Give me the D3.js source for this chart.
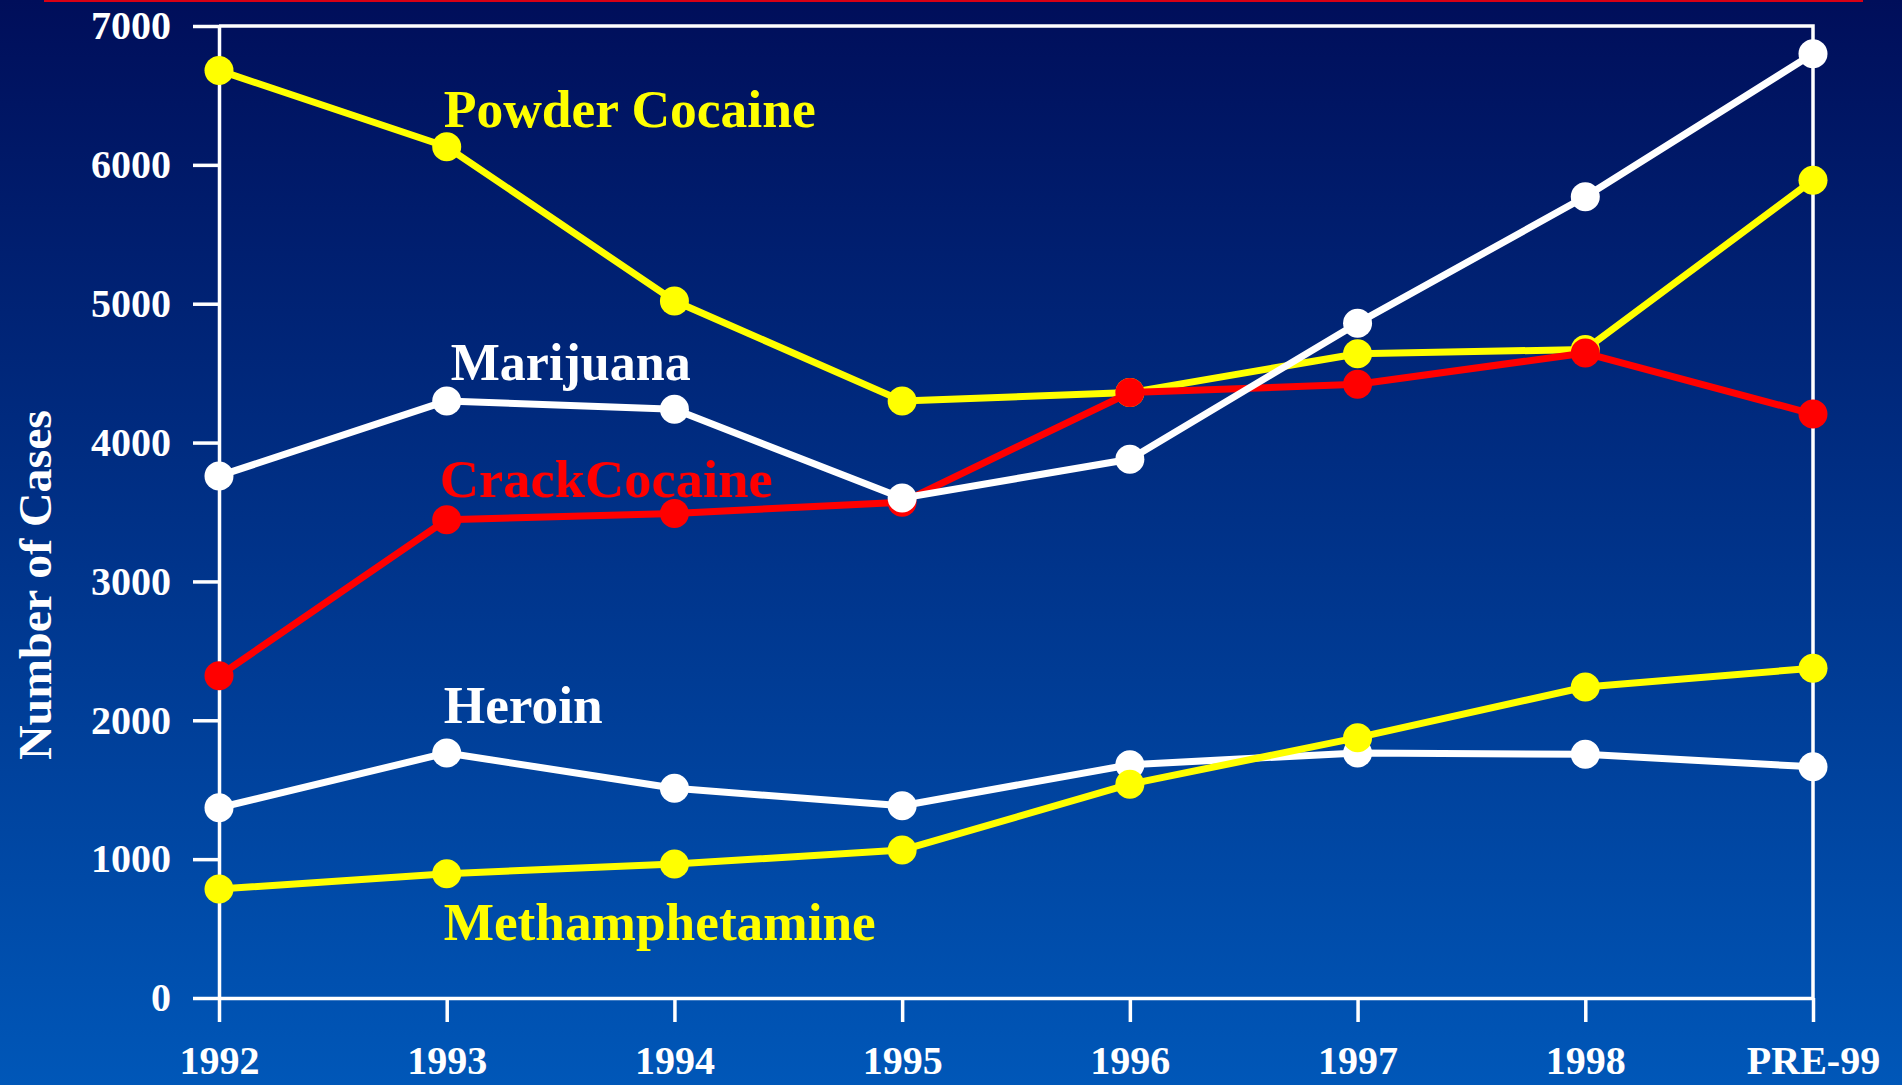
<!DOCTYPE html>
<html>
<head>
<meta charset="utf-8">
<script src="https://cdn.jsdelivr.net/npm/d3@7"></script>
<style>
  html, body { margin: 0; padding: 0; overflow: hidden; background: #00338a; }
  svg { display: block; }
  text { font-family: "Liberation Serif", "Times New Roman", serif; font-weight: bold; }
</style>
</head>
<body>
<div id="chart"></div>
<script>
// categories on the x axis
const years = ["1992", "1993", "1994", "1995", "1996", "1997", "1998", "PRE-99"];
const yTicks = [0, 1000, 2000, 3000, 4000, 5000, 6000, 7000];

// cases per drug
const powderCocaine = [6680, 6130, 5020, 4300, 4360, 4640, 4670, 5890];
const crackCocaine = [2320, 3445, 3490, 3570, 4360, 4420, 4645, 4205];
const marijuana = [3760, 4300, 4240, 3600, 3880, 4860, 5770, 6800];
const heroin = [1370, 1765, 1510, 1385, 1680, 1765, 1755, 1665];
const methamphetamine = [785, 895, 965, 1065, 1540, 1875, 2240, 2375];

const seriesNames = ["Powder Cocaine", "CrackCocaine", "Marijuana", "Heroin", "Methamphetamine"];
const seriesValues = [powderCocaine, crackCocaine, marijuana, heroin, methamphetamine];
const seriesColors = ["#ffff00", "#ff0000", "#ffffff", "#ffffff", "#ffff00"];

const width = 1902;
const height = 1085;
const margin = { top: 26, right: 89, bottom: 87, left: 219 };

// where each series name sits (label x offset from 1993, baseline y, width)
const labelLayout = [
  { dx: -3, y: 127, len: 372 },
  { dx: -7, y: 497, len: 333 },
  { dx: 4, y: 380, len: 240 },
  { dx: -3, y: 723, len: 159 },
  { dx: -3, y: 940, len: 432 },
];

const svg = d3.select("#chart")
  .append("svg")
  .attr("width", width)
  .attr("height", height);

// background gradient
const defs = svg.append("defs");
const grad = defs.append("linearGradient")
  .attr("id", "bg")
  .attr("x1", 0).attr("y1", 0).attr("x2", 0).attr("y2", 1);
grad.append("stop").attr("offset", "0%").attr("stop-color", "#000e5a");
grad.append("stop").attr("offset", "100%").attr("stop-color", "#0057b8");

svg.append("rect")
  .attr("width", width)
  .attr("height", height)
  .attr("fill", "url(#bg)");

// red rule at the very top
svg.append("rect")
  .attr("x", 44)
  .attr("y", 0)
  .attr("width", 1819)
  .attr("height", 2)
  .attr("fill", "#d80014");

const x = d3.scalePoint()
  .domain(years)
  .range([margin.left, width - margin.right]);

const y = d3.scaleLinear()
  .domain([0, 7000])
  .range([height - margin.bottom, margin.top]);

const axisColor = "#ffffff";
const axisWidth = 3.5;

// frame top + right
svg.append("path")
  .attr("d", `M${x.range()[0]},${y(7000)}H${x.range()[1]}V${y(0)}`)
  .attr("fill", "none")
  .attr("stroke", axisColor)
  .attr("stroke-width", axisWidth);

const yAxis = svg.append("g")
  .attr("transform", `translate(${margin.left},0)`)
  .call(d3.axisLeft(y).tickValues(yTicks).tickFormat(d3.format("d")).tickSize(26).tickSizeOuter(0).tickPadding(22));

const xAxis = svg.append("g")
  .attr("transform", `translate(0,${y(0)})`)
  .call(d3.axisBottom(x).tickSize(24).tickSizeOuter(0).tickPadding(24));

[yAxis, xAxis].forEach((g) => {
  g.attr("font-family", null).attr("font-size", null);
  g.select(".domain").attr("stroke", axisColor).attr("stroke-width", axisWidth);
  g.selectAll(".tick line").attr("stroke", axisColor).attr("stroke-width", axisWidth);
  g.selectAll(".tick text")
    .attr("fill", "#ffffff")
    .style("font-size", "40px");
});

// y axis title
svg.append("text")
  .attr("transform", "translate(51,585) rotate(-90)")
  .attr("text-anchor", "middle")
  .attr("fill", "#ffffff")
  .attr("textLength", 350)
  .attr("lengthAdjust", "spacingAndGlyphs")
  .style("font-size", "46px")
  .text("Number of Cases");

const line = d3.line()
  .x((d, i) => x(years[i]))
  .y((d) => y(d));

// lines + markers, in stacking order of the picture
seriesValues.forEach((vals, s) => {
  const g = svg.append("g").attr("class", "series");

  g.append("path")
    .datum(vals)
    .attr("d", line)
    .attr("fill", "none")
    .attr("stroke", seriesColors[s])
    .attr("stroke-width", 7)
    .attr("stroke-linejoin", "round");

  g.selectAll("circle")
    .data(vals)
    .enter()
    .append("circle")
    .attr("cx", (d, i) => x(years[i]))
    .attr("cy", (d) => y(d))
    .attr("r", 14.5)
    .attr("fill", seriesColors[s]);
});

// series names
svg.selectAll(".series-label")
  .data(seriesNames)
  .enter()
  .append("text")
  .attr("class", "series-label")
  .attr("x", (d, i) => x(years[1]) + labelLayout[i].dx)
  .attr("y", (d, i) => labelLayout[i].y)
  .attr("fill", (d, i) => seriesColors[i])
  .attr("textLength", (d, i) => labelLayout[i].len)
  .attr("lengthAdjust", "spacingAndGlyphs")
  .style("font-size", "52px")
  .text((d) => d);
</script>
</body>
</html>
